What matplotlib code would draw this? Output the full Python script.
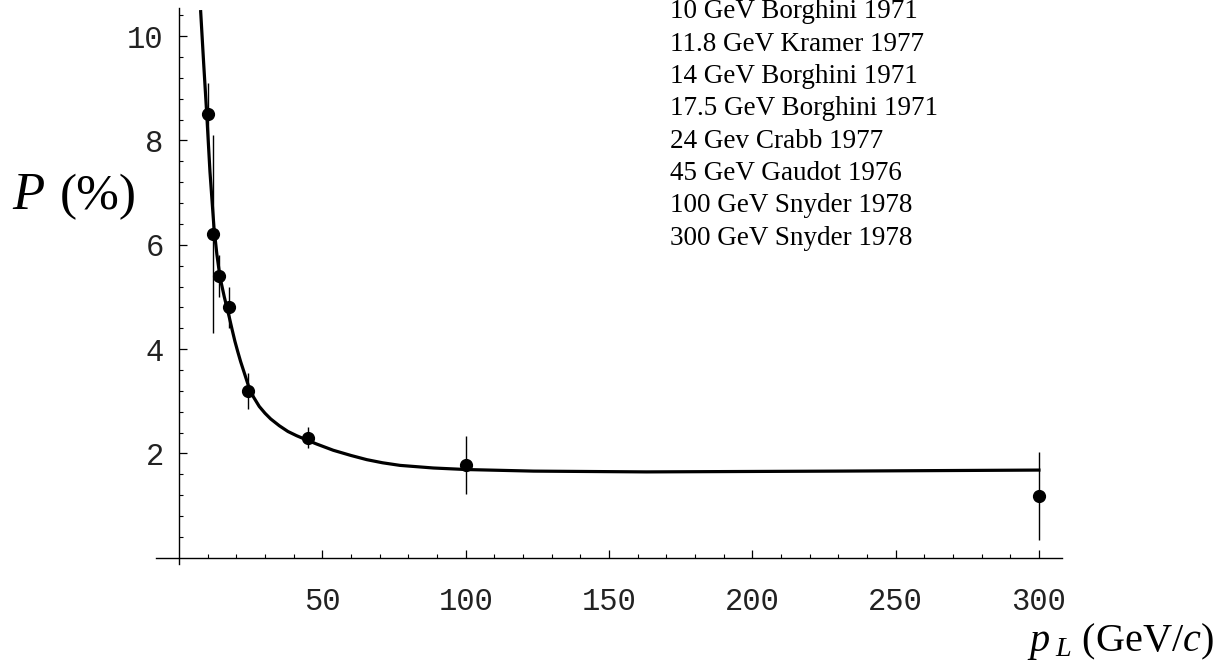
import matplotlib
matplotlib.use("Agg")
import matplotlib.pyplot as plt
import numpy as np

plt.rcParams['mathtext.fontset'] = 'custom'
plt.rcParams['mathtext.rm'] = 'Liberation Serif'
plt.rcParams['mathtext.it'] = 'Liberation Serif:italic'

# measured data points (momentum GeV/c, polarization %, error)
p_lab = [10, 11.8, 14, 17.5, 24, 45, 100, 300]
pol = [8.5, 6.2, 5.4, 4.8, 3.2, 2.3, 1.78, 1.18]
pol_err = [0.6, 1.9, 0.4, 0.4, 0.35, 0.2, 0.55, 0.84]

# fitted curve
curve_x = [7.56, 8.6, 9.66, 10.8, 12.2, 13.2, 14.3, 15.8, 17.5, 18.5, 19.5, 20.5, 21.5,
           22.8, 24.2, 26, 28, 30, 32, 35, 38, 41, 44, 48, 53.8, 60, 65.5, 71,
           77.1, 88.7, 100.4, 123.7, 163, 229, 300]
curve_y = [10.47, 9.48, 8.52, 7.4, 6.33, 5.82, 5.38, 5.0, 4.62, 4.38, 4.15, 3.95, 3.76,
           3.54, 3.3, 3.08, 2.9, 2.77, 2.66, 2.53, 2.42, 2.34, 2.27, 2.18, 2.06, 1.96, 1.88, 1.82,
           1.77, 1.72, 1.69, 1.66, 1.645, 1.66, 1.68]

legend_lines = ["10 GeV Borghini 1971", "11.8 GeV Kramer 1977", "14 GeV Borghini 1971",
                "17.5 GeV Borghini 1971", "24 Gev Crabb 1977", "45 GeV Gaudot 1976",
                "100 GeV Snyder 1978", "300 GeV Snyder 1978"]

xticks = [50, 100, 150, 200, 250, 300]
yticks = [2, 4, 6, 8, 10]

W, H = 1225, 670
fig = plt.figure(figsize=(W / 100, H / 100), dpi=100)
ax = fig.add_axes([150 / W, 95 / H, 915 / W, 570 / H])
ax.set_xlim(-10.12, 309.1)
ax.set_ylim(-0.332, 10.598)

ax.plot(curve_x, curve_y, color='black', lw=2.3, solid_joinstyle='round', zorder=3)
ax.errorbar(p_lab, pol, yerr=pol_err, fmt='o', color='black', ms=8.5,
            elinewidth=1.0, capsize=0, zorder=4)

for s in ['top', 'right']:
    ax.spines[s].set_visible(False)
ax.spines['left'].set_position(('data', 0))
ax.spines['bottom'].set_position(('data', 0))
ax.spines['left'].set_bounds(-0.12, 10.55)
ax.spines['bottom'].set_bounds(-8, 308)
for s in ['left', 'bottom']:
    ax.spines[s].set_linewidth(1.0)

ax.set_xticks(xticks)
ax.set_xticks([v for v in range(10, 301, 10) if v % 50 != 0], minor=True)
ax.set_yticks(yticks)
ax.set_yticks([round(0.4 * k, 1) for k in range(1, 27) if k % 5 != 0], minor=True)
ax.set_xticklabels([str(v) for v in xticks])
ax.set_yticklabels([str(v) for v in yticks])
ax.tick_params(axis='both', which='major', direction='in', length=5.5, width=0.9)
ax.tick_params(axis='both', which='minor', direction='in', length=3, width=0.8)
ax.tick_params(axis='x', which='major', pad=21)
ax.tick_params(axis='y', which='major', pad=11)
for lab in ax.get_xticklabels() + ax.get_yticklabels():
    lab.set_family('Liberation Mono')
    lab.set_fontsize(22)
    lab.set_color('#222222')

# axis titles
fig.text(12 / W, 1 - 209 / H, 'P', fontsize=38, family='Liberation Serif',
         style='italic', va='baseline', ha='left')
fig.text(60 / W, 1 - 209 / H, '(%)', fontsize=37, family='Liberation Serif',
         va='baseline', ha='left')
fig.text(1027 / W, 1 - 651 / H, r'$p_{\;L}$ (GeV/$c$)', fontsize=29,
         family='Liberation Serif', va='baseline', ha='left')

# legend text
for i, t in enumerate(legend_lines):
    fig.text(670 / W, 1 - (12 + 32.3 * i) / H, t, fontsize=19.5,
             family='Liberation Serif', va='center', ha='left')

fig.savefig('out.png', dpi=100)
